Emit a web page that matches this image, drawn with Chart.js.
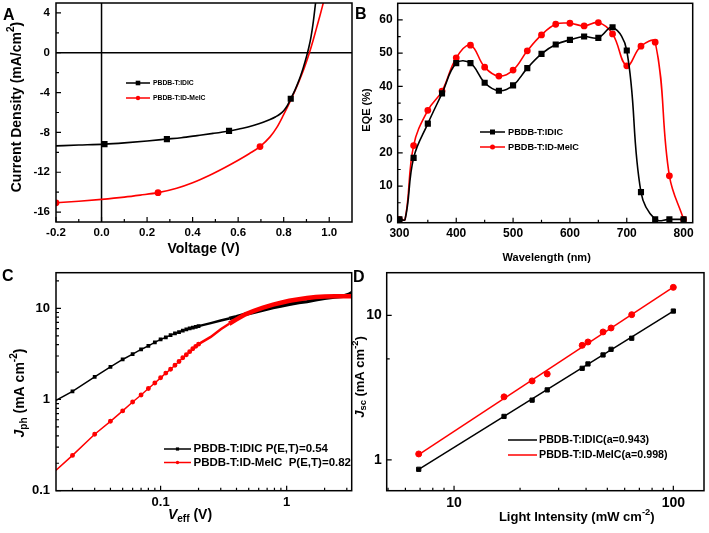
<!DOCTYPE html>
<html>
<head>
<meta charset="utf-8">
<script src="https://cdn.jsdelivr.net/npm/chart.js@4.4.0/dist/chart.umd.min.js"></script>
<style>
    html, body { margin: 0; padding: 0; background: #fff; }
    #wrap { position: relative; width: 709px; height: 533px; }
    #wrap canvas { position: absolute; left: 0; top: 0; }
</style>
</head>
<body>
<div id="wrap">
    <canvas id="chartA" width="709" height="533"></canvas>
    <canvas id="chartB" width="709" height="533"></canvas>
    <canvas id="chartC" width="709" height="533"></canvas>
    <canvas id="chartD" width="709" height="533"></canvas>
</div>
<script>
// ---- A: J-V curves ----
const jvBlackV = [-0.2, -0.1, 0.013, 0.1, 0.2, 0.287, 0.35, 0.42, 0.49, 0.56, 0.62, 0.67, 0.71, 0.74, 0.765, 0.784, 0.8, 0.815,
                  0.831, 0.85, 0.864, 0.876, 0.886, 0.9, 0.91, 0.92, 0.93, 0.94];
const jvBlackJ = [-9.35, -9.27, -9.18, -9.05, -8.86, -8.67, -8.53, -8.32, -8.1, -7.85, -7.58, -7.27, -6.97, -6.7, -6.42, -6.15, -5.82, -5.35,
                  -4.62, -3.72, -2.95, -2.2, -1.5, -0.4, 0.5, 1.6, 3.1, 5.0];
const jvBlackMarks = [0.013, 0.287, 0.56, 0.831];
const jvRedV = [-0.2, -0.1, 0.0, 0.1, 0.17, 0.248, 0.33, 0.4, 0.475, 0.54, 0.6, 0.65, 0.696, 0.74, 0.77, 0.798, 0.83, 0.864,
                0.89, 0.913, 0.93, 0.945, 0.96, 0.975];
const jvRedJ = [-15.07, -14.92, -14.73, -14.5, -14.3, -14.05, -13.6, -13.05, -12.3, -11.55, -10.8, -10.12, -9.42, -8.45, -7.5, -6.3, -4.8, -3.05,
                -1.55, 0, 1.3, 2.55, 3.8, 5.1];
const jvRedMarks = [-0.2, 0.248, 0.696];
const jvXTicks = [-0.2, 0, 0.2, 0.4, 0.6, 0.8, 1.0];
const jvYTicks = [-16, -12, -8, -4, 0, 4];

// ---- B: EQE ----
const eqeWl = [300, 310, 325, 350, 375, 400, 425, 450, 475, 500, 525, 550, 575, 600, 625, 650, 675, 700, 725, 750, 775, 800];
const eqeBlack = [0, 0, 18.5, 28.8, 37.9, 47.0, 47.0, 41.1, 38.7, 40.3, 45.5, 49.8, 52.6, 54.0, 55.0, 54.6, 57.8, 50.8, 8.2, 0, 0, 0];
const eqeRed = [0, 0, 22.2, 32.8, 38.6, 48.6, 52.4, 45.8, 43.1, 44.9, 50.7, 55.5, 58.7, 59.0, 58.2, 59.2, 55.8, 46.2, 52.1, 53.3, 13.1, 0];
const eqeXTicks = [300, 400, 500, 600, 700, 800];
const eqeYTicks = [0, 10, 20, 30, 40, 50, 60];

// ---- C: Jph vs Veff ----
const veff = [0.01, 0.02, 0.03, 0.04, 0.05, 0.06, 0.07, 0.08, 0.09, 0.10, 0.11, 0.12, 0.13, 0.14, 0.15, 0.16, 0.17, 0.18, 0.19, 0.20,
              0.25, 0.3, 0.35, 0.4, 0.47, 0.55, 0.65, 0.78, 0.9, 1.05, 1.25, 1.45, 1.7, 2.0, 2.4, 2.8, 3.1, 3.3];
const jphBlack = [0.73, 1.23, 1.77, 2.28, 2.75, 3.15, 3.54, 3.88, 4.23, 4.56, 4.8, 5.09, 5.3, 5.5, 5.7, 5.88, 6.02, 6.15, 6.27, 6.38,
                  6.88, 7.35, 7.75, 8.1, 8.6, 9.05, 9.6, 10.2, 10.6, 11.1, 11.6, 11.85, 12.4, 12.9, 13.3, 13.6, 14.2, 14.9];
const jphRed = [0.103, 0.244, 0.416, 0.577, 0.75, 0.94, 1.12, 1.32, 1.52, 1.73, 1.95, 2.15, 2.38, 2.61, 2.87, 3.1, 3.35, 3.6, 3.83, 4.05,
                4.86, 5.9, 6.77, 7.56, 8.6, 9.4, 10.2, 11.0, 11.5, 12.1, 12.6, 13.0, 13.3, 13.45, 13.55, 13.6, 13.6, 13.6];
const jphXTicks = [0.1, 1];
const jphYTicks = [0.1, 1, 10];

// ---- D: Jsc vs light intensity ----
const lightI = [6.9, 16.9, 22.7, 26.6, 38.4, 40.8, 47.8, 52, 64.6, 100];
const jscBlack = [0.862, 2.0, 2.59, 3.05, 4.3, 4.61, 5.32, 5.82, 6.94, 10.7];
const jscRed = [1.1, 2.73, 3.52, 3.93, 6.2, 6.54, 7.67, 8.17, 10.1, 15.6];
const fitX = [6.9, 100];
const fitBlack = [0.86, 10.7];
const fitRed = [1.09, 15.65];
const jscXTicks = [10, 100];
const jscYTicks = [1, 10];

const FONT = '"Liberation Sans", Arial, Helvetica, sans-serif';
const RED = '#ff0000';
const pts = (xs, ys) => xs.map((v, i) => ({ x: v, y: ys[i] }));

// rotated / sub- superscript axis titles
function richText(ctx, item) {
    const size = item.size;
    const fontOf = p => (p.i ? 'italic ' : '') + 'bold ' + ((p.sub || p.sup) ? size * 0.72 : size) + 'px ' + FONT;
    ctx.save();
    ctx.translate(item.x, item.y);
    if (item.rot) ctx.rotate(-Math.PI / 2);
    let w = 0;
    item.parts.forEach(p => { ctx.font = fontOf(p); w += ctx.measureText(p.t).width; });
    let cx = -w / 2;
    ctx.fillStyle = '#000';
    ctx.textBaseline = 'middle';
    ctx.textAlign = 'left';
    item.parts.forEach(p => {
        ctx.font = fontOf(p);
        const dy = p.sub ? size * 0.3 : p.sup ? -size * 0.38 : 0;
        ctx.fillText(p.t, cx, dy);
        cx += ctx.measureText(p.t).width;
    });
    ctx.restore();
}

function marker(ctx, style, x, y, r) {
    ctx.beginPath();
    if (style === 'rect') ctx.rect(x - r, y - r, 2 * r, 2 * r);
    else ctx.arc(x, y, r, 0, Math.PI * 2);
    ctx.fill();
}

// frame, inward ticks, panel letter, titles, legend
function deco(cfg) {
    return {
        id: 'deco' + cfg.letter,
        beforeDatasetsDraw(chart) {
            if (!cfg.zeroLines) return;
            const { ctx, chartArea: a, scales: { x, y } } = chart;
            const px = x.getPixelForValue(0), py = y.getPixelForValue(0);
            ctx.save();
            ctx.strokeStyle = '#000';
            ctx.lineWidth = 1.5;
            ctx.beginPath();
            ctx.moveTo(px, a.top); ctx.lineTo(px, a.bottom);
            ctx.moveTo(a.left, py); ctx.lineTo(a.right, py);
            ctx.stroke();
            ctx.restore();
        },
        afterDraw(chart) {
            const { ctx, chartArea: a, scales: { x, y } } = chart;
            ctx.save();
            ctx.strokeStyle = '#000';
            ctx.lineWidth = 1.5;
            ctx.strokeRect(a.left, a.top, a.right - a.left, a.bottom - a.top);
            ctx.lineWidth = 1.2;
            ctx.beginPath();
            const tx = (v, len) => { const p = x.getPixelForValue(v); ctx.moveTo(p, a.bottom); ctx.lineTo(p, a.bottom - len); };
            const ty = (v, len) => { const p = y.getPixelForValue(v); ctx.moveTo(a.left, p); ctx.lineTo(a.left + len, p); };
            x.ticks.forEach(t => tx(t.value, 5));
            y.ticks.forEach(t => ty(t.value, 5));
            cfg.minorX.forEach(v => tx(v, 3));
            cfg.minorY.forEach(v => ty(v, 3));
            ctx.stroke();

            ctx.fillStyle = '#000';
            ctx.font = 'bold 16px ' + FONT;
            ctx.textAlign = 'left';
            ctx.textBaseline = 'alphabetic';
            ctx.fillText(cfg.letter, cfg.letterAt[0], cfg.letterAt[1]);

            cfg.titles.forEach(t => richText(ctx, t));

            const lg = cfg.legend;
            lg.items.forEach((it, i) => {
                const yy = lg.y + i * lg.dy;
                ctx.strokeStyle = it.color;
                ctx.fillStyle = it.color;
                ctx.lineWidth = 1.5;
                ctx.beginPath();
                ctx.moveTo(lg.x, yy); ctx.lineTo(lg.x + lg.len, yy);
                ctx.stroke();
                if (it.style) marker(ctx, it.style, lg.x + lg.len / 2, yy, it.r);
                ctx.fillStyle = '#000';
                ctx.font = 'bold ' + lg.size + 'px ' + FONT;
                ctx.textBaseline = 'middle';
                ctx.fillText(it.text, lg.x + lg.len + lg.gap, yy);
            });
            ctx.restore();
        }
    };
}

function scaleOpts(o) {
    return {
        type: o.type || 'linear',
        min: o.min,
        max: o.max,
        bounds: 'data',
        grid: { display: false, drawTicks: false },
        border: { display: false },
        afterBuildTicks: s => { s.ticks = o.ticks.map(v => ({ value: v })); },
        afterFit: s => {
            // fixed axis box, no extra padding for end labels
            if (o.width != null) s.width = o.width;
            if (o.height != null) s.height = o.height;
            s.paddingTop = 0; s.paddingBottom = 0;
            s.paddingLeft = 0; s.paddingRight = 0;
        },
        ticks: {
            autoSkip: false,
            maxRotation: 0,
            padding: o.pad,
            color: '#000',
            font: { family: FONT, size: o.size, weight: 'bold' },
            callback: v => o.fmt ? o.fmt(v) : String(v)
        }
    };
}

function makeChart(id, datasets, xs, ys, padding, decoCfg) {
    return new Chart(document.getElementById(id), {
        type: 'scatter',
        data: { datasets },
        options: {
            responsive: false,
            animation: false,
            events: [],
            layout: { padding, autoPadding: false },
            plugins: { legend: { display: false }, tooltip: { enabled: false } },
            scales: { x: scaleOpts(xs), y: scaleOpts(ys) }
        },
        plugins: [deco(decoCfg)]
    });
}

// Panel A
makeChart('chartA', [
    {
        data: pts(jvBlackV, jvBlackJ), showLine: true, borderColor: '#000', backgroundColor: '#000', borderWidth: 1.6,
        cubicInterpolationMode: 'monotone', tension: 0.4, pointStyle: 'rect',
        pointRadius: ctx => ctx.raw && jvBlackMarks.includes(ctx.raw.x) ? 3.2 : 0
    },
    {
        data: pts(jvRedV, jvRedJ), showLine: true, borderColor: RED, backgroundColor: RED, borderWidth: 1.6,
        cubicInterpolationMode: 'monotone', tension: 0.4, pointStyle: 'circle',
        pointRadius: ctx => ctx.raw && jvRedMarks.includes(ctx.raw.x) ? 2.6 : 0
    }
],
    { min: -0.2, max: 1.1, ticks: jvXTicks, fmt: v => v.toFixed(1), size: 11.5, pad: 4, height: 22 },
    { min: -17, max: 5, ticks: jvYTicks, size: 11.5, pad: 6, width: 40 },
    { left: 16, right: 357, top: 3, bottom: 289 },
    {
        letter: 'A', letterAt: [3, 20], zeroLines: true,
        minorX: [-0.1, 0.1, 0.3, 0.5, 0.7, 0.9], minorY: [-14, -10, -6, -2, 2],
        titles: [
            { x: 17, y: 107, rot: true, size: 14, parts: [{ t: 'Current Density (mA/cm' }, { t: '2', sup: true }, { t: ')' }] },
            { x: 203.5, y: 249, size: 14, parts: [{ t: 'Voltage (V)' }] }
        ],
        legend: {
            x: 126, y: 83, dy: 15, len: 24, gap: 3, size: 6.8, items: [
                { color: '#000', style: 'rect', r: 2.3, text: 'PBDB-T:IDIC' },
                { color: RED, style: 'circle', r: 2.2, text: 'PBDB-T:ID-MeIC' }
            ]
        }
    });

// Panel B
makeChart('chartB', [
    {
        data: pts(eqeWl, eqeBlack), showLine: true, borderColor: '#000', backgroundColor: '#000', borderWidth: 1.6,
        tension: 0.4, pointStyle: 'rect',
        pointRadius: ctx => ctx.raw && ctx.raw.x % 25 === 0 ? 3.2 : 0
    },
    {
        data: pts(eqeWl, eqeRed), showLine: true, borderColor: RED, backgroundColor: RED, borderWidth: 1.6,
        tension: 0.4, pointStyle: 'circle',
        pointRadius: ctx => ctx.raw && ctx.raw.x % 25 === 0 ? 2.6 : 0
    }
],
    { min: 297, max: 816, ticks: eqeXTicks, size: 12, pad: 4, height: 20 },
    { min: -1, max: 65, ticks: eqeYTicks, size: 12, pad: 5, width: 35 },
    { left: 362.7, right: 16.3, top: 3.3, bottom: 290.3 },
    {
        letter: 'B', letterAt: [355, 19],
        minorX: [350, 450, 550, 650, 750], minorY: [5, 15, 25, 35, 45, 55],
        titles: [
            { x: 367.3, y: 110, rot: true, size: 11, parts: [{ t: 'EQE (%)' }] },
            { x: 546.7, y: 258.3, size: 11, parts: [{ t: 'Wavelength (nm)' }] }
        ],
        legend: {
            x: 480, y: 132, dy: 15, len: 25, gap: 3, size: 9.2, items: [
                { color: '#000', style: 'rect', r: 2.5, text: 'PBDB-T:IDIC' },
                { color: RED, style: 'circle', r: 2.5, text: 'PBDB-T:ID-MeIC' }
            ]
        }
    });

// Panel C
const thick = (w) => ctx => ctx.p0.parsed.x < 0.2 ? 1.5 : ctx.p0.parsed.x < 0.35 ? 2.5 : w;
makeChart('chartC', [
    {
        data: pts(veff, jphRed), showLine: true, borderColor: RED, backgroundColor: RED, borderWidth: 1.5, order: 0,
        pointStyle: 'circle', segment: { borderWidth: thick(4.5) },
        pointRadius: ctx => ctx.raw && ctx.raw.x <= 0.2 ? 1.7 : 0
    },
    {
        data: pts(veff, jphBlack), showLine: true, borderColor: '#000', backgroundColor: '#000', borderWidth: 1.5, order: 1,
        pointStyle: 'rect', segment: { borderWidth: thick(3.5) },
        pointRadius: ctx => ctx.raw && ctx.raw.x <= 0.2 ? 1.6 : 0
    }
],
    { type: 'logarithmic', min: 0.0148, max: 3.28, ticks: jphXTicks, size: 13, pad: 4, height: 22 },
    { type: 'logarithmic', min: 0.1, max: 24.6, ticks: jphYTicks, size: 13, pad: 6, width: 40 },
    { left: 16, right: 357.3, top: 272.7, bottom: 20.3 },
    {
        letter: 'C', letterAt: [2, 281],
        minorX: [0.02, 0.03, 0.04, 0.05, 0.06, 0.07, 0.08, 0.09, 0.2, 0.3, 0.4, 0.5, 0.6, 0.7, 0.8, 0.9, 2, 3],
        minorY: [0.2, 0.3, 0.4, 0.5, 0.6, 0.7, 0.8, 0.9, 2, 3, 4, 5, 6, 7, 8, 9, 20],
        titles: [
            { x: 20, y: 393, rot: true, size: 14, parts: [{ t: 'J', i: true }, { t: 'ph', sub: true }, { t: ' (mA cm' }, { t: '-2', sup: true }, { t: ')' }] },
            { x: 190, y: 515, size: 14, parts: [{ t: 'V', i: true }, { t: 'eff', sub: true }, { t: ' (V)' }] }
        ],
        legend: {
            x: 164, y: 449, dy: 13.5, len: 27, gap: 2.5, size: 11.5, items: [
                { color: '#000', style: 'rect', r: 1.6, text: 'PBDB-T:IDIC P(E,T)=0.54' },
                { color: RED, style: 'circle', r: 1.7, text: 'PBDB-T:ID-MeIC  P(E,T)=0.82' }
            ]
        }
    });

// Panel D
makeChart('chartD', [
    { data: pts(lightI, jscBlack), showLine: false, backgroundColor: '#000', borderColor: '#000', pointStyle: 'rect', pointRadius: 3 },
    { data: pts(lightI, jscRed), showLine: false, backgroundColor: RED, borderColor: RED, pointStyle: 'circle', pointRadius: 3 },
    { data: pts(fitX, fitBlack), showLine: true, borderColor: '#000', borderWidth: 1.5, pointRadius: 0 },
    { data: pts(fitX, fitRed), showLine: true, borderColor: RED, borderWidth: 1.5, pointRadius: 0 }
],
    { type: 'logarithmic', min: 4.93, max: 138, ticks: jscXTicks, size: 14, pad: 4, height: 22 },
    { type: 'logarithmic', min: 0.613, max: 19.7, ticks: jscYTicks, size: 14, pad: 5, width: 28 },
    { left: 358.7, right: 5, top: 272.7, bottom: 20.3 },
    {
        letter: 'D', letterAt: [353, 282],
        minorX: [5, 6, 7, 8, 9, 20, 30, 40, 50, 60, 70, 80, 90],
        minorY: [5],
        titles: [
            { x: 360, y: 377, rot: true, size: 13, parts: [{ t: 'J', i: true }, { t: 'sc', sub: true }, { t: ' (mA cm' }, { t: '-2', sup: true }, { t: ')' }] },
            { x: 576.7, y: 517.3, size: 13, parts: [{ t: 'Light Intensity (mW cm' }, { t: '-2', sup: true }, { t: ')' }] }
        ],
        legend: {
            x: 508, y: 440, dy: 15, len: 29, gap: 2, size: 10.7, items: [
                { color: '#000', text: 'PBDB-T:IDIC(a=0.943)' },
                { color: RED, text: 'PBDB-T:ID-MeIC(a=0.998)' }
            ]
        }
    });
</script>
</body>
</html>
